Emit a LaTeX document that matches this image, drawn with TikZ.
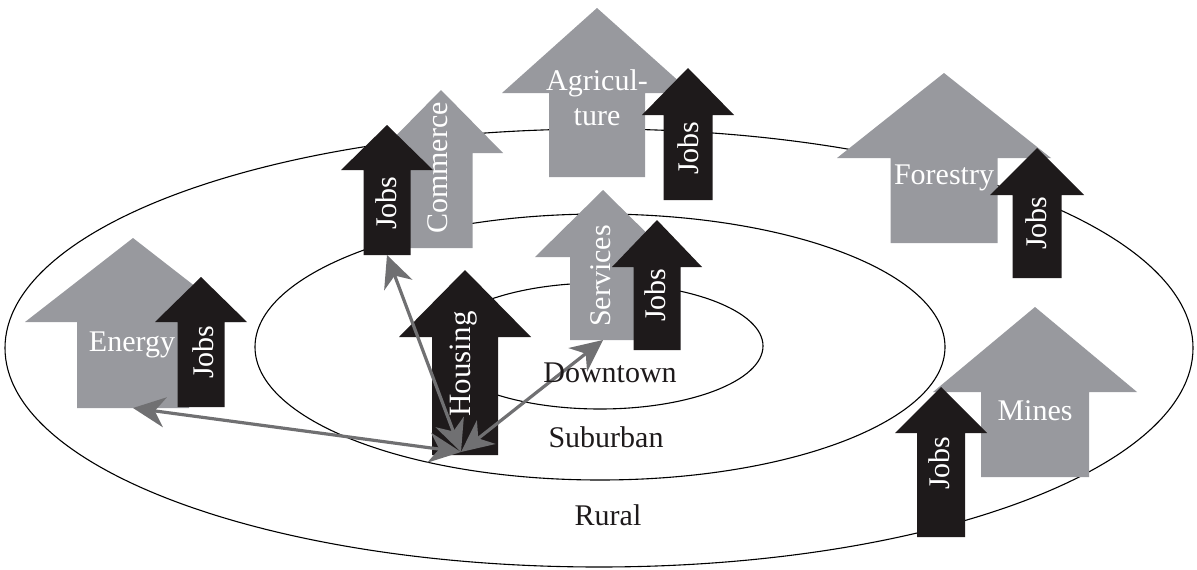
\documentclass[tikz,border=0pt]{standalone}
\usepackage{fontspec}
\setmainfont{Liberation Serif}
\usetikzlibrary{arrows.meta}
\definecolor{blockgray}{RGB}{152,153,158}
\definecolor{blockblack}{RGB}{30,26,27}
\definecolor{conngray}{RGB}{112,112,114}
\newcommand\HArrow[8]{%
  \fill[#2] (#3,#4) -- ({#3+#5},#6) -- ({#3+#7},#6) -- ({#3+#7},#8) -- ({#3-#7},#8) -- ({#3-#7},#6) -- ({#3-#5},#6) -- cycle;
  \coordinate (#1-bot) at (#3,#8);
}
\tikzset{
  ring/.style={draw=black, line width=1.1pt},
  wlbl/.style={text=white, inner sep=0pt, font=\fontsize{30}{36}\selectfont},
  vlbl/.style={wlbl, rotate=90},
  zone/.style={text=blockblack, inner sep=0pt, anchor=base, font=\fontsize{30}{36}\selectfont},
  conn/.style={draw=conngray, line width=3.2pt, {Stealth[length=32pt,width=30pt,inset=10pt]}-{Stealth[length=32pt,width=30pt,inset=10pt]}}
}
\begin{document}
\begin{tikzpicture}[x=1pt,y=-1pt]
\useasboundingbox (0,0) rectangle (1197,570);
% rings
\draw[ring] (599,348) ellipse [x radius=594, y radius=219];
\draw[ring] (600,347) ellipse [x radius=345, y radius=133];
\draw[ring] (600,346) ellipse [x radius=163, y radius=63];
% blocks
\HArrow{energy}{blockgray}{133}{238}{108}{322}{56}{408}
\HArrow{ejobs}{blockblack}{201}{277}{46}{322}{23.5}{407}
\HArrow{commerce}{blockgray}{441}{90}{62}{153}{31.5}{248}
\HArrow{cjobs}{blockblack}{387}{125}{46}{170}{23.5}{255}
\HArrow{agri}{blockgray}{597}{8}{95}{93}{48}{177}
\HArrow{ajobs}{blockblack}{688}{68}{46}{115}{24.5}{200}
\HArrow{services}{blockgray}{603}{190}{68}{257}{33}{340}
\HArrow{sjobs}{blockblack}{657}{220}{45}{267}{23.5}{350}
\HArrow{housing}{blockblack}{465}{270}{66}{337}{33}{455}
\HArrow{forestry}{blockgray}{944}{73}{107}{158}{53.5}{243}
\HArrow{fjobs}{blockblack}{1037}{148}{47}{195}{24.5}{278}
\HArrow{mines}{blockgray}{1035}{307}{102}{392}{54}{477}
\HArrow{mjobs}{blockblack}{941}{387}{46}{433}{24}{537}
% block labels
\node[wlbl] (tEnergy) at (132,345) {Energy};
\node[vlbl] (tEJobs) at (203,352) {Jobs};
\node[vlbl] (tCommerce) at (438,168) {Commerce};
\node[vlbl] (tCJobs) at (386,203) {Jobs};
\node[wlbl, align=center, font=\fontsize{30}{35}\selectfont] (tAgri) at (597,98) {Agricul-\\ture};
\node[vlbl] (tAJobs) at (688,148) {Jobs};
\node[vlbl] (tServices) at (601,276) {Services};
\node[vlbl] (tSJobs) at (655,295) {Jobs};
\node[vlbl, font=\fontsize{31}{36}\selectfont] (tHousing) at (464,364) {Housing};
\node[wlbl] (tForestry) at (944,178) {Forestry};
\node[vlbl] (tFJobs) at (1036,223) {Jobs};
\node[wlbl] (tMines) at (1035,411) {Mines};
\node[vlbl] (tMJobs) at (939,463) {Jobs};
% connectors
\coordinate (hub) at (461,452);
\draw[conn] (hub) -- (energy-bot);
\draw[conn] (hub) -- (cjobs-bot);
\draw[conn] (hub) -- (services-bot);
% zone labels
\node[zone] (downtown) at (610,382) {Downtown};
\node[zone] (suburban) at (606,447) {Suburban};
\node[zone] (rural) at (608,525) {Rural};
\end{tikzpicture}
\end{document}
